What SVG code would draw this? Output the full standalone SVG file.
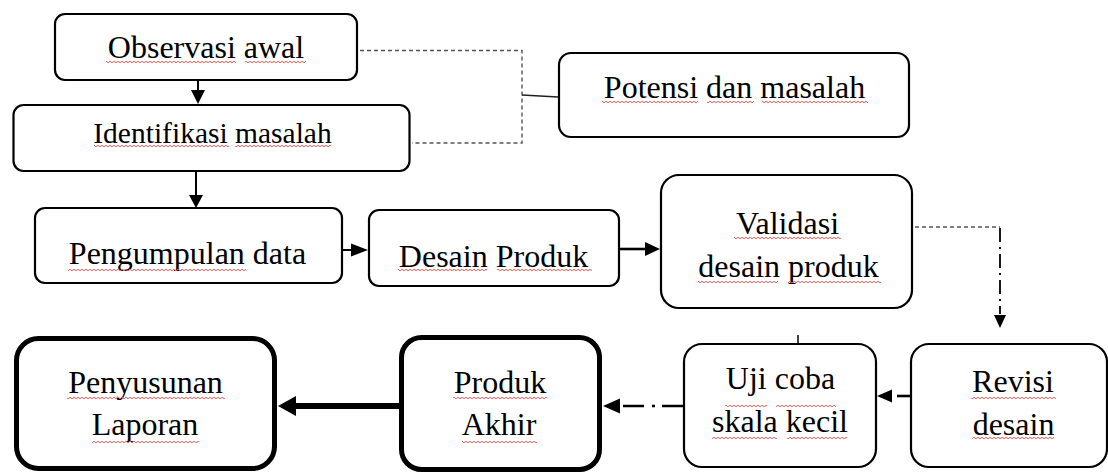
<svg xmlns="http://www.w3.org/2000/svg" width="1108" height="473" viewBox="0 0 1108 473">
<style>
.box{fill:#fff;stroke:#000;stroke-width:2.2}
.thick{fill:#fff;stroke:#000;stroke-width:5}
.t{font-family:"Liberation Serif","Times New Roman",serif;font-size:32px;fill:#000;text-anchor:middle}
.ln{fill:none;stroke:#000;stroke-width:2}
.dash{fill:none;stroke:#555;stroke-width:1.4;stroke-dasharray:4 3}
.dd{fill:none;stroke:#000;stroke-width:1.8;stroke-dasharray:14 5 2 5}
.head{fill:#000;stroke:none}
.sq{fill:url(#sq)}
</style>
<defs>
<pattern id="sq" x="0" y="0" width="4" height="4" patternUnits="userSpaceOnUse">
<path d="M0,3 L2,1 L4,3" fill="none" stroke="#f55" stroke-width="0.9"/>
</pattern>
</defs>
<rect width="1108" height="473" fill="#fff"/>

<g id="connectors">
<!-- Observasi -> Identifikasi -->
<line class="ln" x1="198" y1="81" x2="198" y2="92"/>
<polygon class="head" points="191,90 205,90 198,104"/>
<!-- Identifikasi -> Pengumpulan -->
<line class="ln" x1="196" y1="172" x2="196" y2="197"/>
<polygon class="head" points="189,195 203,195 196,208"/>
<!-- Pengumpulan -> Desain -->
<line class="ln" x1="343" y1="250" x2="353" y2="250"/>
<polygon class="head" points="351,243.5 351,256.5 368,250"/>
<!-- Desain -> Validasi -->
<line class="ln" style="stroke-width:2.6" x1="620" y1="249" x2="647" y2="249"/>
<polygon class="head" points="645,242 645,256 660,249"/>
<!-- dashed bracket to Potensi -->
<path class="dash" d="M360,50.5 H522 V143 H412"/>
<line x1="522" y1="95" x2="558" y2="97" stroke="#222" stroke-width="1.3"/>
<!-- Validasi -> Revisi -->
<path class="dash" d="M915,227 H1000"/>
<path class="dd" d="M1000,228 V314"/>
<polygon class="head" points="994,315 1006,315 1000,328"/>
<!-- tick above Uji coba -->
<line x1="798" y1="335" x2="798" y2="344" stroke="#000" stroke-width="1.5"/>
<!-- Revisi -> Uji coba -->
<line class="ln" style="stroke-width:2.6" x1="897" y1="396" x2="910" y2="396"/>
<polygon class="head" points="892,389.5 892,402.5 877,396"/>
<!-- Uji coba -> Produk Akhir -->
<path class="ln" style="stroke-width:2.6;stroke-dasharray:21 7 3 8" d="M683,406 H620"/>
<polygon class="head" points="620,398.5 620,413.5 603,406"/>
<!-- Produk Akhir -> Penyusunan -->
<line class="ln" style="stroke-width:6" x1="399" y1="406" x2="294" y2="406"/>
<polygon class="head" points="296,396 296,416 278,406"/>
</g>

<g id="observasi">
<rect class="box" x="55" y="14" width="302" height="66" rx="10"/>
<text class="t" x="206" y="58">Observasi awal</text>
<rect class="sq" x="106" y="60" width="130" height="3.5"/><rect class="sq" x="245" y="60" width="61" height="3.5"/>
</g>

<g id="identifikasi">
<rect class="box" x="13.5" y="105" width="396" height="66" rx="10"/>
<text class="t" style="font-size:29.5px" x="212.5" y="143">Identifikasi masalah</text>
<rect class="sq" x="94" y="144" width="135" height="3.5"/><rect class="sq" x="235" y="144" width="96" height="3.5"/>
</g>

<g id="potensi">
<rect class="box" x="559" y="53" width="350" height="84" rx="12"/>
<text class="t" x="734.5" y="98">Potensi dan masalah</text>
<rect class="sq" x="602" y="100" width="96" height="3.5"/><rect class="sq" x="707" y="100" width="47" height="3.5"/><rect class="sq" x="762" y="100" width="106" height="3.5"/>
</g>

<g id="pengumpulan">
<rect class="box" x="35" y="208" width="307" height="75" rx="10"/>
<text class="t" x="187.5" y="264">Pengumpulan data</text>
<rect class="sq" x="68" y="268" width="178" height="3.5"/>
</g>

<g id="desain">
<rect class="box" x="369" y="210" width="250" height="76" rx="10"/>
<text class="t" x="493.5" y="267">Desain Produk</text>
<rect class="sq" x="398" y="268" width="89" height="3.5"/><rect class="sq" x="497" y="268" width="95" height="3.5"/>
</g>

<g id="validasi">
<rect class="box" x="661" y="175" width="251" height="133" rx="18"/>
<text class="t" x="787.5" y="234">Validasi</text>
<text class="t" x="788.5" y="277">desain produk</text>
<rect class="sq" x="734" y="236" width="107" height="3.5"/>
<rect class="sq" x="698" y="280" width="80" height="3.5"/><rect class="sq" x="788" y="280" width="93" height="3.5"/>
</g>

<g id="revisi">
<rect class="box" x="911" y="344" width="196" height="123" rx="18"/>
<text class="t" x="1013" y="392">Revisi</text>
<text class="t" x="1013.5" y="435">desain</text>
<rect class="sq" x="971" y="396" width="85" height="3.5"/>
<rect class="sq" x="972" y="436" width="82" height="3.5"/>
</g>

<g id="ujicoba">
<rect class="box" x="684" y="344" width="192" height="123" rx="18"/>
<text class="t" x="780.5" y="389">Uji coba</text>
<text class="t" x="780" y="432">skala kecil</text>
<rect class="sq" x="725" y="404" width="42" height="3.5"/><rect class="sq" x="776" y="404" width="60" height="3.5"/>
<rect class="sq" x="712" y="436" width="65" height="3.5"/><rect class="sq" x="787" y="436" width="60" height="3.5"/>
</g>

<g id="produkakhir">
<rect class="thick" x="401.5" y="337.5" width="198" height="132" rx="20"/>
<text class="t" x="500" y="393">Produk</text>
<text class="t" x="499" y="435">Akhir</text>
<rect class="sq" x="453" y="396" width="94" height="3.5"/>
<rect class="sq" x="462" y="440" width="75" height="3.5"/>
</g>

<g id="penyusunan">
<rect class="thick" x="16.5" y="338.5" width="258" height="130" rx="22"/>
<text class="t" x="145.5" y="393">Penyusunan</text>
<text class="t" x="145" y="435">Laporan</text>
<rect class="sq" x="67" y="396" width="158" height="3.5"/>
<rect class="sq" x="92" y="440" width="107" height="3.5"/>
</g>
</svg>
